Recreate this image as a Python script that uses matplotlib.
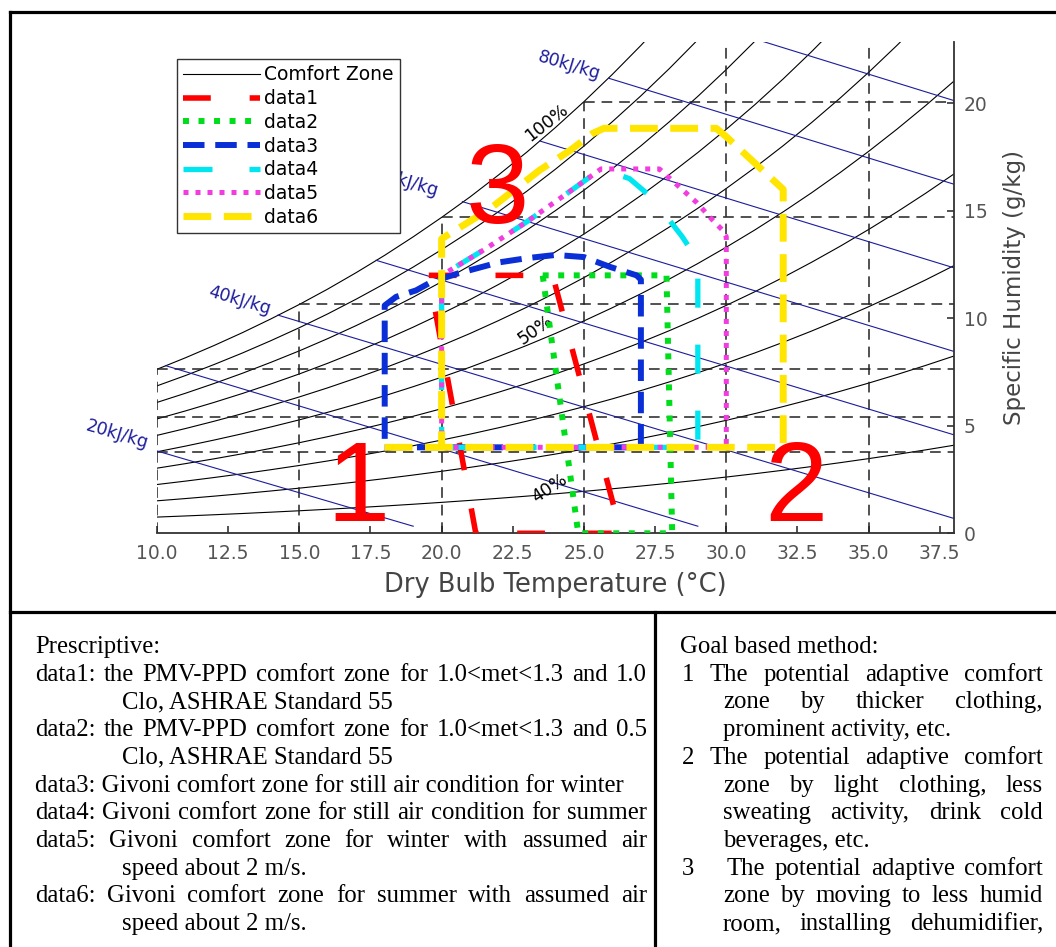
import numpy as np
import matplotlib
matplotlib.use("Agg")
import matplotlib.pyplot as plt

# --- psychrometric background ---
sat_t = list(range(10, 39))  # dry bulb, degC
sat_p = [1.228, 1.313, 1.403, 1.498, 1.599, 1.705, 1.818, 1.938, 2.064, 2.198,
         2.339, 2.487, 2.645, 2.810, 2.985, 3.169, 3.363, 3.567, 3.782, 4.008,
         4.246, 4.495, 4.758, 5.034, 5.324, 5.628, 5.947, 6.281, 6.630]  # kPa
rh_levels = [0.1, 0.2, 0.3, 0.4, 0.5, 0.6, 0.7, 0.8, 0.9, 1.0]

dew_t = [0, 5, 10, 15, 20, 25]
dew_w = [3.78, 5.40, 7.63, 10.65, 14.70, 20.08]
db_t = [10, 15, 20, 25, 30, 35]
db_top = [7.63, 10.65, 14.70, 20.08, 27.2, 36.6]

enth_h = [20, 30, 40, 50, 60, 70, 80, 90]
enth_t0 = [10.0, 10.3, 14.25, 17.7, 20.73, 23.45, 25.87, 31.0]
enth_w0 = [3.83, 7.80, 10.15, 12.7, 15.43, 18.25, 21.17, 23.0]
enth_t1 = [19.0, 29.0, 38.0, 38.0, 38.0, 38.0, 38.0, 38.0]
enth_w1 = [0.33, 0.33, 0.69, 4.58, 8.46, 12.35, 16.24, 20.13]
enth_labels = {20: (8.6, 4.6), 40: (12.9, 10.85), 60: (18.8, 16.3), 80: (24.5, 21.75)}

rh_labels = ["100%", "50%", "40%"]
rh_label_t = [23.7, 23.3, 23.8]
rh_label_w = [19.1, 9.45, 2.1]
rh_label_rot = [38, 35, 33]

# --- comfort zones ---
data1_t = [19.55, 23.9, 26.3, 21.2, 19.55]
data1_w = [12.0, 12.0, 0.0, 0.0, 12.0]
data2_t = [23.55, 27.9, 28.1, 24.8, 23.55]
data2_w = [12.0, 12.0, 0.0, 0.0, 12.0]
data3_t = [18, 27, 27, 26.85, 25.9, 25.0, 24.0, 23.0, 22.0, 20.6, 19.65, 19.1, 18.4, 18, 18]
data3_w = [4, 4, 11.8, 12.0, 12.4, 12.85, 12.95, 12.8, 12.6, 12.1, 11.7, 11.3, 11.0, 10.6, 4]
data4_t = [20, 29, 29, 28.45, 27.4, 26.6, 25.6, 24.5, 23.0, 21.5, 20, 20]
data4_w = [4, 4, 12.7, 13.8, 15.6, 16.5, 16.95, 15.9, 14.5, 13.2, 12.0, 4]
data5_t = [20, 30, 30, 29.87, 29.5, 28.95, 28.36, 27.65, 25.6, 24.5, 23.0, 21.5, 20, 20]
data5_w = [4, 4, 13.8, 14.1, 14.6, 15.4, 16.1, 16.95, 16.95, 15.9, 14.5, 13.2, 12.0, 4]
data6_t = [18, 32, 32, 30.0, 29.65, 25.7, 25.3, 24.5, 23.45, 21.7, 20, 20]
data6_w = [4, 4, 16.0, 18.45, 18.84, 18.84, 18.6, 17.8, 16.9, 15.1, 13.7, 4]

zone_names = ["1", "2", "3"]
zone_t = [17.05, 32.45, 21.97]
zone_w = [0.55, 0.55, 14.45]

left_lines = [
    ("Prescriptive:", 35, None),
    ("data1: the PMV-PPD comfort zone for 1.0<met<1.3 and 1.0", 35, 647),
    ("Clo, ASHRAE Standard 55", 122, None),
    ("data2: the PMV-PPD comfort zone for 1.0<met<1.3 and 0.5", 35, 647),
    ("Clo, ASHRAE Standard 55", 122, None),
    ("data3: Givoni comfort zone for still air condition for winter", 35, None),
    ("data4: Givoni comfort zone for still air condition for summer", 35, 647),
    ("data5: Givoni comfort zone for winter with assumed air", 35, 647),
    ("speed about 2 m/s.", 122, None),
    ("data6: Givoni comfort zone for summer with assumed air", 35, 647),
    ("speed about 2 m/s.", 122, None),
]
right_lines = [
    ("", "Goal based method:", 680, None),
    ("1", "The potential adaptive comfort", 710, 1043),
    ("", "zone by thicker clothing,", 723, 1043),
    ("", "prominent activity, etc.", 723, None),
    ("2", "The potential adaptive comfort", 710, 1043),
    ("", "zone by light clothing, less", 723, 1043),
    ("", "sweating activity, drink cold", 723, 1043),
    ("", "beverages, etc.", 723, None),
    ("3", "The potential adaptive comfort", 727, 1043),
    ("", "zone by moving to less humid", 723, 1043),
    ("", "room, installing dehumidifier,", 723, 1043),
]

W, H = 1056, 947
fig = plt.figure(figsize=(W / 100, H / 100), dpi=100)
fig.patch.set_facecolor("white")

# page layer in pixel units (frames and notes)
bg = fig.add_axes([0, 0, 1, 1], zorder=0)
bg.set_xlim(0, W)
bg.set_ylim(H, 0)
bg.axis("off")

ax = fig.add_axes([157 / W, (H - 533.3) / H, 797 / W, 491.6 / H], zorder=1)
ax.set_facecolor("none")
ax.set_xlim(10, 38)
ax.set_ylim(0, 22.87)

# relative humidity curves
p_arr = np.array(sat_p)
rh_handles = []
for rh in rh_levels:
    pw = rh * p_arr
    w = 622.0 * pw / (101.325 - pw)
    h, = ax.plot(sat_t, w, color="black", lw=0.8, zorder=2)
    rh_handles.append(h)

# dew point / dry bulb grid
for t, w in zip(dew_t, dew_w):
    ax.plot([max(t, 10), 38], [w, w], color="#222222", lw=1.1,
            dashes=(7, 4.5), zorder=2)
for t, w in zip(db_t, db_top):
    ax.plot([t, t], [0, w], color="#222222", lw=1.1, dashes=(7, 4.5), zorder=2)

# enthalpy lines
for i, hval in enumerate(enth_h):
    ax.plot([enth_t0[i], enth_t1[i]], [enth_w0[i], enth_w1[i]],
            color="#1c1c9c", lw=0.8, zorder=2)
for hval, (tx, wy) in enth_labels.items():
    ax.text(tx, wy, f"{hval}kJ/kg", color="#1c1c9c", fontsize=12.5,
            rotation=-16.5, ha="center", va="center", clip_on=False, zorder=3)

for s, tx, wy, r in zip(rh_labels, rh_label_t, rh_label_w, rh_label_rot):
    ax.text(tx, wy, s, fontsize=12.5, rotation=r, ha="center", va="center", zorder=3)

# comfort zones
styles = [
    (data1_t, data1_w, "#ff0000", 4.0, (5, 7), "data1"),
    (data2_t, data2_w, "#00dd1a", 4.3, (1, 1.6), "data2"),
    (data3_t, data3_w, "#0a2fd6", 4.3, (3.6, 1.8), "data3"),
    (data4_t, data4_w, "#00e6f0", 3.8, (5.5, 7), "data4"),
    (data5_t, data5_w, "#f23ce0", 3.6, (1, 1.4), "data5"),
    (data6_t, data6_w, "#ffe500", 5.0, (4, 1.8), "data6"),
]
zone_handles = []
for t, w, c, lw, ds, lab in styles:
    ln, = ax.plot(t, w, color=c, lw=lw, dashes=ds, dash_capstyle="butt",
                  solid_joinstyle="miter", label=lab, zorder=4)
    zone_handles.append(ln)

for s, tx, wy in zip(zone_names, zone_t, zone_w):
    ax.text(tx, wy, s, color="red", fontsize=82, family="Liberation Sans",
            ha="center", va="baseline", zorder=5)

leg = ax.legend([rh_handles[0]] + zone_handles,
                ["Comfort Zone"] + [s[5] for s in styles],
                loc="upper left", bbox_to_anchor=(0.025, 0.965), borderaxespad=0,
                fontsize=13.5, handlelength=4.1, handletextpad=0.2,
                labelspacing=0.25, borderpad=0.35, fancybox=False,
                edgecolor="#333333", framealpha=1)
leg.get_frame().set_linewidth(1.0)
leg.set_zorder(6)

# axes look
for side in ["top", "left"]:
    ax.spines[side].set_visible(False)
for side in ["bottom", "right"]:
    ax.spines[side].set_color("#333333")
    ax.spines[side].set_linewidth(1.3)
ax.set_xticks(np.arange(10, 38, 2.5))
ax.set_xticklabels([f"{v:.1f}" for v in np.arange(10, 38, 2.5)])
ax.set_yticks([0, 5, 10, 15, 20])
ax.yaxis.tick_right()
ax.tick_params(direction="in", length=5, width=1.2, color="#333333",
               labelcolor="#555555", labelsize=13.5)
ax.tick_params(axis="x", pad=8)
ax.tick_params(axis="y", pad=7)
ax.set_xlabel("Dry Bulb Temperature (\u00b0C)", fontsize=18.5, color="#444444", va="center")
ax.xaxis.set_label_coords(0.5, -0.105)
ax.yaxis.set_label_position("right")
ax.set_ylabel("Specific Humidity (g/kg)", fontsize=16.5, color="#444444",
              rotation=90, va="center")
ax.yaxis.set_label_coords(1.0765, 0.5)

# frames
fk = dict(color="black", lw=2.3, solid_capstyle="projecting")
bg.plot([9.5, W], [12, 12], **fk)
bg.plot([9.5, 9.5], [12, H], **fk)
bg.plot([9.5, W], [612, 612], **fk)
bg.plot([655, 655], [612, H], **fk)

# notes
renderer = fig.canvas.get_renderer()
tk = dict(fontsize=17.8, family="Liberation Serif", va="baseline", color="black")


def put_line(text, x0, y, x1):
    if x1 is None:
        bg.text(x0, y, text, **tk)
        return
    words = text.split()
    objs = [bg.text(0, y, wd, **tk) for wd in words]
    widths = [o.get_window_extent(renderer).width for o in objs]
    gap = (x1 - x0 - sum(widths)) / (len(words) - 1)
    x = x0
    for o, wd in zip(objs, widths):
        o.set_x(x)
        x += wd + gap


base0, step = 653, 27.7
for i, (text, x0, x1) in enumerate(left_lines):
    put_line(text, x0, base0 + i * step, x1)
for i, (num, text, x0, x1) in enumerate(right_lines):
    y = base0 + i * step
    if num:
        bg.text(682, y, num, **tk)
    put_line(text, x0, y, x1)

fig.savefig("out.png", dpi=100, facecolor="white")
